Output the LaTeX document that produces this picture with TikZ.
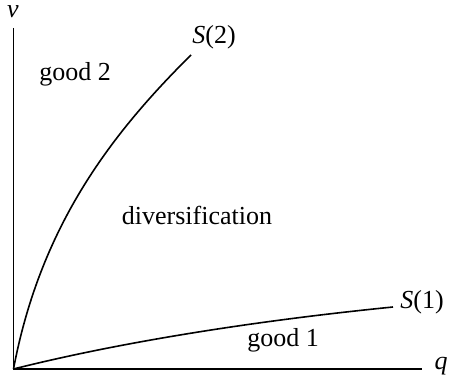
\documentclass[tikz,border=0pt]{standalone}
\usepackage{fontspec}
\setmainfont{Liberation Serif}
\begin{document}
\begin{tikzpicture}[x=1pt,y=-1pt,
  axis/.style={line width=1.8pt},
  curve/.style={line width=1.6pt},
  lbl/.style={inner sep=0pt,font=\fontsize{26}{30}\selectfont}]
\useasboundingbox (0,0) rectangle (449,382);
\coordinate (O) at (13.5,369);
\coordinate (ytop) at (13.5,28);
\coordinate (xend) at (422,369);
\coordinate (s2end) at (191,55);
\coordinate (s1end) at (393,307);
\draw[axis] (ytop) -- (O) -- (xend);
\draw[curve] (O) .. controls (40,229) and (108,137) .. (s2end);
\draw[curve] (O) .. controls (133,339) and (273,319) .. (s1end);
\node[lbl] (vlab) at (13,12) {\textit{v}};
\node[lbl] (qlab) at (441,366) {\textit{q}};
\node[lbl] (s2lab) at (214,37) {\textit{S}(2)};
\node[lbl] (s1lab) at (422,302) {\textit{S}(1)};
\node[lbl] (g2) at (75,74) {good 2};
\node[lbl] (div) at (197,215) {diversification};
\node[lbl] (g1) at (283,340) {good 1};
\end{tikzpicture}
\end{document}
